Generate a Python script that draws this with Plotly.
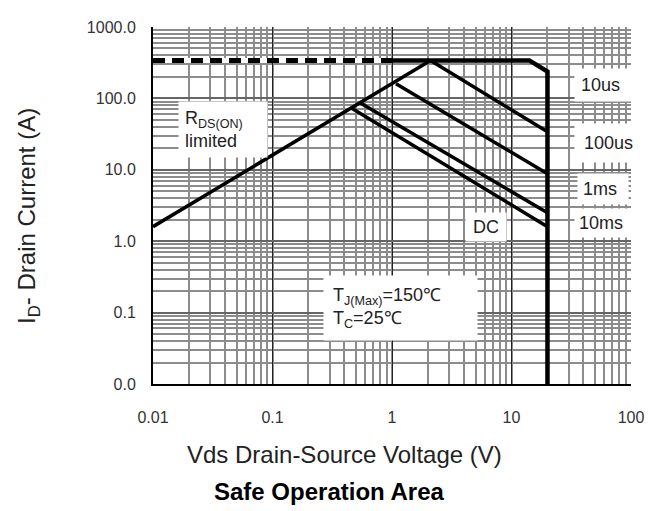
import plotly.graph_objects as go

# ---- data ----
x_ticks = [0.01, 0.1, 1, 10, 100]
x_ticktext = ["0.01", "0.1", "1", "10", "100"]
y_ticks = [1000, 100, 10, 1, 0.1, 0.01]
y_ticktext = ["1000.0", "100.0", "10.0", "1.0", "0.1", "0.0"]

# package (current) limit, dashed part
limit_dash_v = [0.01, 1.0]
limit_dash_i = [340, 340]
# package limit solid + power corner + BVdss vertical
limit_v = [1.0, 14.1, 20, 20]
limit_i = [340, 340, 238, 0.01]
# RDS(on) limited line
rds_v = [0.01, 2.1]
rds_i = [1.6, 340]
# pulse lines
us10_v = [2.1, 20]
us10_i = [340, 34]
us100_v = [1.08, 20]
us100_i = [160, 8.8]
ms1_v = [0.54, 20]
ms1_i = [87, 2.5]
dc_v = [0.46, 20]
dc_i = [73, 1.6]

FONT = "Liberation Sans, Arial, sans-serif"

fig = go.Figure()

def line(x, y, w, dash="solid", color="black"):
    fig.add_trace(go.Scatter(x=x, y=y, mode="lines",
                             line=dict(color=color, width=w, dash=dash),
                             hoverinfo="skip", showlegend=False))

line(limit_dash_v, limit_dash_i, 5, color="white")
line(limit_dash_v, limit_dash_i, 5, dash="12px,7px")
line(limit_v, limit_i, 4.5)
line(rds_v, rds_i, 3.5)
line(us10_v, us10_i, 3.5)
line(us100_v, us100_i, 3.5)
line(ms1_v, ms1_i, 3.5)
line(dc_v, dc_i, 3.5)

def lab(text, x, y, width, pad=4, size=18, xanchor="left", align="left"):
    fig.add_annotation(text=text, x=x, y=y, xref="x", yref="y",
                       xanchor=xanchor, yanchor="middle", showarrow=False,
                       bgcolor="white", borderpad=pad, width=width, align=align,
                       font=dict(family=FONT, size=size, color="#222"))

lab("R<sub>DS(ON)</sub><br>limited", -1.79, 1.57, 76, pad=6)
lab("10us", 1.52, 2.19, 54, pad=6)
lab("100us", 1.52, 1.38, 54, pad=9)
lab("1ms", 1.55, 0.73, 40, pad=5)
lab("10ms", 1.52, 0.26, 54, pad=4)
lab("DC", 0.61, 0.20, 32, pad=4, align="center")
lab("T<sub>J(Max)</sub>=150℃<br>T<sub>C</sub>=25℃", -0.58, -0.93, 135, pad=9, size=18)

# axis titles and chart title
fig.add_annotation(text="I<sub>D</sub>- Drain Current (A)", xref="paper", yref="paper",
                   x=-0.262, y=0.47, xanchor="center", yanchor="middle",
                   textangle=-90, showarrow=False,
                   font=dict(family=FONT, size=24, color="#222"))
fig.add_annotation(text="Vds Drain-Source Voltage (V)", xref="paper", yref="paper",
                   x=0.40, y=-0.197, xanchor="center", yanchor="middle", showarrow=False,
                   font=dict(family=FONT, size=24, color="#222"))
fig.add_annotation(text="<b>Safe Operation Area</b>", xref="paper", yref="paper",
                   x=0.37, y=-0.30, xanchor="center", yanchor="middle", showarrow=False,
                   font=dict(family=FONT, size=24, color="black"))

fig.update_xaxes(type="log", range=[-2, 2], tickmode="array", tickvals=x_ticks,
                 ticktext=x_ticktext, showgrid=True, gridcolor="#222", gridwidth=1,
                 minor=dict(dtick="D1", showgrid=True, gridcolor="#8c8c8c", gridwidth=1.5),
                 showline=True, linecolor="black", linewidth=2, ticks="",
                 ticklabelstandoff=18, zeroline=False, ticklabeloverflow="allow",
                 tickfont=dict(family=FONT, size=16, color="#333"))
fig.update_yaxes(type="log", range=[-2, 3], tickmode="array", tickvals=y_ticks,
                 ticktext=y_ticktext, showgrid=True, gridcolor="#666", gridwidth=1.5,
                 minor=dict(dtick="D1", showgrid=True, gridcolor="#8c8c8c", gridwidth=1.5),
                 showline=True, linecolor="black", linewidth=2, ticks="",
                 ticklabelstandoff=12, zeroline=False, ticklabeloverflow="allow",
                 tickfont=dict(family=FONT, size=16, color="#333"))

# the page body has an 8px default margin, so the figure is 8px smaller
fig.update_layout(width=656, height=503, autosize=False,
                  margin=dict(l=145, r=33, t=11, b=127),
                  plot_bgcolor="white", paper_bgcolor="white",
                  showlegend=False)

fig.write_html("out.html")
